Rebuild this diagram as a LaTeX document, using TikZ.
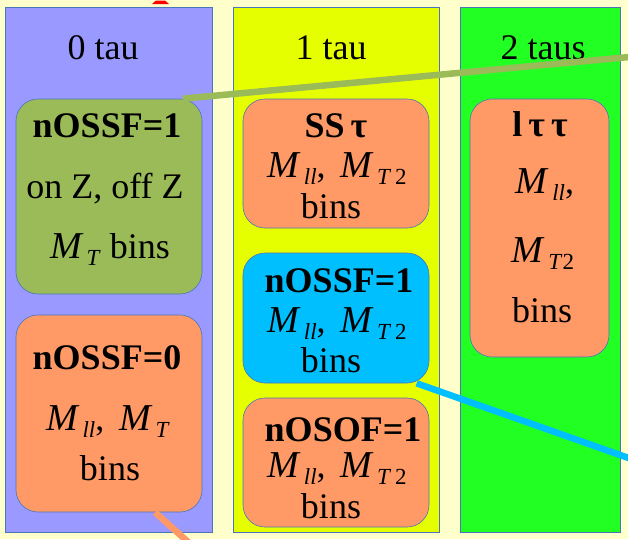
\documentclass[tikz,border=0pt]{standalone}
\usepackage{fontspec}
\setmainfont{Liberation Serif}
\usetikzlibrary{calc}

\definecolor{paper}{HTML}{FFFFCC}
\definecolor{colzero}{HTML}{9999FF}
\definecolor{colone}{HTML}{E6FF00}
\definecolor{coltwo}{HTML}{22FF22}
\definecolor{edgeblue}{HTML}{4A76B8}
\definecolor{boxgreen}{HTML}{9BBB59}
\definecolor{boxorange}{HTML}{FF9966}
\definecolor{boxblue}{HTML}{00BFFF}

% italic M with a lowered subscript
\newcommand\Msub[1]{{\fontsize{38}{38}\selectfont\textit{M}}\hspace{3pt}\raisebox{-7pt}{\fontsize{23}{23}\selectfont #1}}

\tikzset{
  column/.style={draw=edgeblue, line width=0.8pt, inner sep=0pt},
  head/.style={font=\fontsize{36}{36}\selectfont, inner sep=0pt, anchor=base},
  region/.style={draw=edgeblue, line width=0.6pt, rounded corners=22pt, inner sep=0pt},
  txt/.style={font=\fontsize{36}{36}\selectfont, inner sep=0pt, anchor=base},
  link/.style={line width=6.5pt},
}

\begin{document}
\begin{tikzpicture}[x=1pt, y=-1pt]
\useasboundingbox (0,0) rectangle (628,539);
\clip (0,0) rectangle (628,539);
\fill[paper] (0,0) rectangle (628,539);

% fragment of a red title letter above the first column
\fill[red] (152,4) -- (169,4) -- (165,0.5) -- (156,0.5) -- cycle;

% the three columns
\node[column, fill=colzero, minimum width=207pt, minimum height=525pt] (c0) at (108.5,269.5) {};
\node[column, fill=colone,  minimum width=206pt, minimum height=525pt] (c1) at (336,269.5) {};
\node[column, fill=coltwo,  minimum width=160pt, minimum height=525pt] (c2) at (540,269.5) {};

\node[head] (h0) at (103,59) {0 tau};
\node[head] (h1) at (331,59) {1 tau};
\node[head] (h2) at (543,59) {2 taus};

% 0 tau regions
\node[region, fill=boxgreen, minimum width=186pt, minimum height=195pt] (A) at (109,196.5) {};
\node[txt] (a1) at (107,137) {\textbf{nOSSF=1}};
\node[txt] (a2) at (105,198) {on Z, off Z};
\node[txt] (a3) at (110,258) {\Msub{\textit{T}} bins};

\node[region, fill=boxorange, minimum width=186pt, minimum height=197pt] (B) at (109,413.5) {};
\node[txt] (b1) at (107,369) {\textbf{nOSSF=0}};
\node[txt] (b2) at (108,430) {\Msub{\textit{ll}}, \,\Msub{\textit{T}}};
\node[txt] (b3) at (110,480) {bins};

% 1 tau regions
\node[region, fill=boxorange, minimum width=186pt, minimum height=129pt] (C) at (336,163.5) {};
\node[txt] (cc1) at (336,137) {\textbf{SS\,τ}};
\node[txt] (cc2) at (337,177) {\Msub{\textit{ll}}, \,\Msub{\textit{T}\,2}};
\node[txt] (cc3) at (331,218) {bins};

\node[region, fill=boxblue, minimum width=186pt, minimum height=130pt] (D) at (336,318) {};
\node[txt] (d1) at (339,292) {\textbf{nOSSF=1}};
\node[txt] (d2) at (337,332) {\Msub{\textit{ll}}, \,\Msub{\textit{T}\,2}};
\node[txt] (d3) at (331,372) {bins};

\node[region, fill=boxorange, minimum width=186pt, minimum height=129pt] (E) at (336,462.5) {};
\node[txt] (e1) at (343,441) {\textbf{nOSOF=1}};
\node[txt] (e2) at (337,477) {\Msub{\textit{ll}}, \,\Msub{\textit{T}\,2}};
\node[txt] (e3) at (331,518) {bins};

% 2 taus region
\node[region, fill=boxorange, minimum width=139pt, minimum height=258pt] (F) at (539.5,228) {};
\node[txt] (f1) at (540,136) {\textbf{l\,τ\,τ}};
\node[txt] (f2) at (545,193) {\Msub{\textit{ll}},};
\node[txt] (f3) at (543,262) {\Msub{\textit{T}2}};
\node[txt] (f4) at (542,322) {bins};

% connectors leaving the picture
\coordinate (gout) at (640,56);
\coordinate (bout) at (640,462);
\coordinate (oout) at (197,550);
\draw[link, boxgreen] (A.53.5) -- (gout);
\draw[link, boxblue] (D.-39.4) -- (bout);
\draw[link, boxorange] (B.-65.9) -- (oout);
\end{tikzpicture}
\end{document}
